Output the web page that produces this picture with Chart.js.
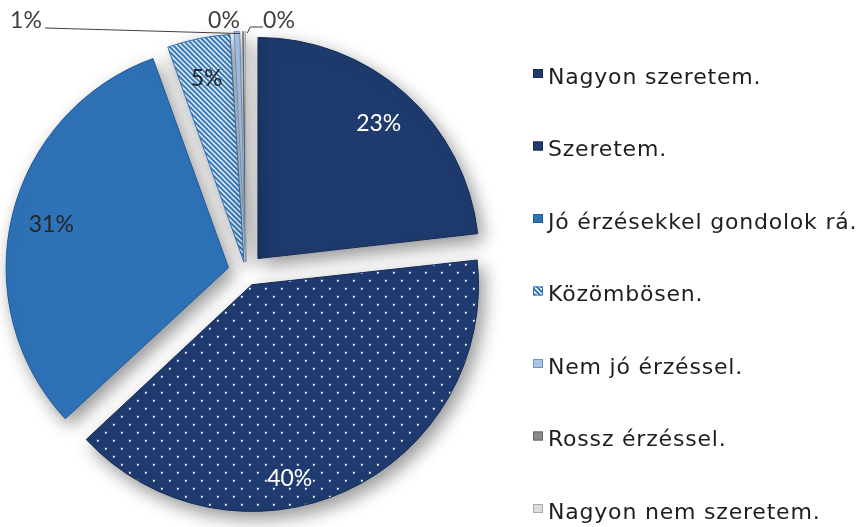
<!DOCTYPE html>
<html lang="hu">
<head>
<meta charset="UTF-8">
<title>Kördiagram</title>
<script src="https://cdn.jsdelivr.net/npm/chart.js"></script>
<style>
    html, body { margin: 0; padding: 0; background: #fff; }
    #wrap { position: relative; width: 862px; height: 527px; }
</style>
</head>
<body>
<div id="wrap"><canvas id="pie" width="862" height="527"></canvas></div>
<script>
// answers and their share (%)
const answers = ['Nagyon szeretem.', 'Szeretem.', 'Jó érzésekkel gondolok rá.', 'Közömbösen.', 'Nem jó érzéssel.', 'Rossz érzéssel.', 'Nagyon nem szeretem.'];
const shares = [23.2, 39.9, 31.4, 4.6, 0.6, 0.2, 0.1];

// fill patterns
function dotPattern() {
    const cv = document.createElement('canvas');
    cv.width = 16; cv.height = 16;
    const g = cv.getContext('2d');
    g.fillStyle = '#1f3b70';
    g.fillRect(0, 0, 16, 16);
    g.fillStyle = 'rgba(255,255,255,0.9)';
    g.fillRect(3, 3, 2, 2);
    g.fillRect(11, 11, 2, 2);
    return g.createPattern(cv, 'repeat');
}
function stripePattern() {
    const n = 5;
    const cv = document.createElement('canvas');
    cv.width = n; cv.height = n;
    const g = cv.getContext('2d');
    g.fillStyle = '#ffffff';
    g.fillRect(0, 0, n, n);
    g.strokeStyle = '#2e75b6';
    g.lineWidth = 2;
    for (let k = -1; k <= 1; k++) {
        g.beginPath();
        g.moveTo(k * n - 1, -1);
        g.lineTo(k * n + n + 1, n + 1);
        g.stroke();
    }
    return g.createPattern(cv, 'repeat');
}

const fills = ['#1f3b6e', dotPattern(), '#2e72b7', stripePattern(), '#a8c6e9', '#8c8c8c', '#dcdcdc'];
const edges = ['#142a52', '#142a52', '#1f5a99', '#2e72b7', '#6f93bf', '#666666', '#aaaaaa'];

// shadow under the slices + percentage labels
const pieDecor = {
    id: 'pieDecor',
    beforeDatasetsDraw(chart) {
        const c = chart.ctx;
        c.save();
        c.shadowColor = 'rgba(0,0,0,0.42)';
        c.shadowBlur = 18;
        c.shadowOffsetX = 5;
        c.shadowOffsetY = 7;
    },
    afterDatasetsDraw(chart) {
        const c = chart.ctx;
        c.restore();
        const meta = chart.getDatasetMeta(0);
        const vals = chart.data.datasets[0].data;
        const top = chart.chartArea.top;
        const anchors = [];
        c.save();
        c.font = '23px Lato, "Open Sans", sans-serif';
        c.textAlign = 'center';
        c.textBaseline = 'middle';
        meta.data.forEach((arc, i) => {
            const p = arc.getProps(['x', 'y', 'startAngle', 'endAngle', 'outerRadius', 'circumference'], true);
            const h = (p.startAngle + p.endAngle) / 2;
            const t = (arc.options.offset || 0) / 4;
            const fix = 1 - Math.sin(Math.min(Math.PI, p.circumference));
            const R = p.outerRadius + t * fix;
            const vx = p.x + Math.cos(h) * t;
            const vy = p.y + Math.sin(h) * t;
            const txt = Math.round(vals[i]) + '%';
            if (vals[i] >= 2) {
                let a = h, f = 0.82;
                if (i === 1) { a = h + 0.237; f = 0.87; }   // best-fit spot near the bottom
                c.fillStyle = (i === 0 || i === 1) ? '#ffffff' : '#262626';
                c.fillText(txt, vx + Math.cos(a) * R * f, vy + Math.sin(a) * R * f);
            } else {
                anchors[i] = { x: vx + Math.cos(h) * R, y: vy + Math.sin(h) * R, txt };
            }
        });
        // small slices: labels above the pie
        c.fillStyle = '#404040';
        c.strokeStyle = '#404040';
        c.lineWidth = 1;
        const ly = top - 23;
        if (anchors[4]) {
            c.fillText(anchors[4].txt, 26, ly);
            c.beginPath();
            c.moveTo(45, ly + 7);
            c.lineTo(anchors[4].x + 3, anchors[4].y + 2);
            c.stroke();
        }
        if (anchors[5]) {
            c.fillText(anchors[5].txt, 224, ly);
        }
        if (anchors[6]) {
            c.fillText(anchors[6].txt, 279, ly);
            c.beginPath();
            c.moveTo(anchors[6].x + 2, anchors[6].y + 2);
            c.lineTo(anchors[6].x + 5, ly + 6);
            c.lineTo(263, ly + 6);
            c.stroke();
        }
        c.restore();
    }
};

// legend on the right side
const sideLegend = {
    id: 'sideLegend',
    afterDraw(chart) {
        const c = chart.ctx;
        const ds = chart.data.datasets[0];
        c.save();
        c.font = '22px "DejaVu Sans"';
        c.letterSpacing = '0.8px';
        c.textBaseline = 'alphabetic';
        c.textAlign = 'left';
        chart.data.labels.forEach((txt, i) => {
            const cy = 73.5 + i * 72.5;
            c.fillStyle = ds.backgroundColor[i];
            c.fillRect(533, cy - 4.5, 10, 9);
            c.strokeStyle = ds.borderColor[i];
            c.lineWidth = 1;
            c.strokeRect(533.5, cy - 4, 9, 8);
            c.fillStyle = '#1e1e1e';
            c.fillText(txt, 548, cy + 10);
        });
        c.restore();
    }
};

new Chart(document.getElementById('pie'), {
    type: 'pie',
    data: {
        labels: answers,
        datasets: [{
            data: shares,
            backgroundColor: fills,
            borderColor: edges,
            borderWidth: 1,
            offset: [72, 56, 72, 40, 40, 40, 40],
            radius: 221
        }]
    },
    options: {
        responsive: false,
        animation: false,
        layout: { padding: { left: 0, right: 370, top: 44, bottom: 27 } },
        plugins: {
            legend: { display: false },
            tooltip: { enabled: false }
        }
    },
    plugins: [pieDecor, sideLegend]
});
</script>
</body>
</html>
